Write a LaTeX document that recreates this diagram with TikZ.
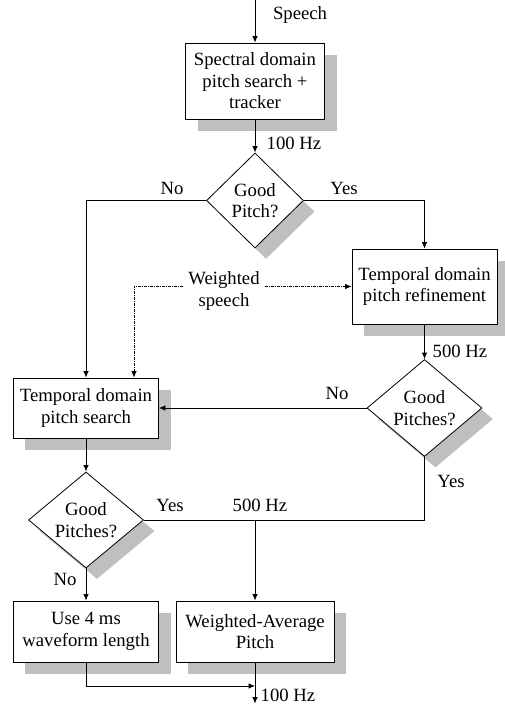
\documentclass[tikz,border=0pt]{standalone}
\usepackage{fontspec}
\setmainfont{Liberation Serif}
\usetikzlibrary{shapes.geometric,arrows.meta,shadows}
\begin{document}
\begin{tikzpicture}[x=1bp,y=-1bp,
  every node/.style={font=\fontsize{18.7bp}{21.5bp}\selectfont},
  shad/.style={drop shadow={shadow xshift=#1,shadow yshift=-#1,fill=black!25,opacity=1,shadow scale=1}},
  box/.style={draw,fill=white,line width=0.8bp,inner sep=0pt,align=center,shad=12bp},
  dia/.style={draw,fill=white,line width=0.8bp,inner sep=0pt,align=center,shape=diamond,shad=11bp},
  lbl/.style={inner sep=0pt},
  con/.style={line width=0.8bp},
  arr/.style={con,-{Latex[length=6.5bp,width=5.5bp]}},
  dd/.style={dash pattern=on 3bp off 1bp on 1bp off 1bp}
]
\useasboundingbox (0,0) rectangle (505,704);

% boxes and decisions
\node[box,minimum width=139bp,minimum height=76bp] (b1) at (255,81) {Spectral domain\\pitch search +\\tracker};
\node[dia,minimum width=97bp,minimum height=95bp,aspect=1.02] (d1) at (255,200.5) {Good\\Pitch?};
\node[box,minimum width=145bp,minimum height=75bp] (b2) at (424.5,286.5) {Temporal domain\\pitch refinement};
\node[dia,minimum width=115bp,minimum height=97bp,aspect=1.19] (d2) at (424.5,408) {Good\\Pitches?};
\node[box,minimum width=145bp,minimum height=60bp] (b3) at (86,408) {Temporal domain\\pitch search};
\node[dia,minimum width=115bp,minimum height=96bp,aspect=1.19] (d3) at (86,520) {Good\\Pitches?};
\node[box,minimum width=145bp,minimum height=61bp] (b4) at (86,631.5) {Use 4 ms\\waveform length};
\node[box,minimum width=158bp,minimum height=61bp] (b5) at (255,631.5) {Weighted-Average\\Pitch};
\node[inner sep=5bp,align=center] (ws) at (224,291) {Weighted\\speech};

% labels
\node[lbl] (lspeech) at (300,15) {Speech};
\node[lbl] (l100a) at (294,143) {100 Hz};
\node[lbl] (lno1) at (172,188) {No};
\node[lbl] (lyes1) at (344,188) {Yes};
\node[lbl] (l500a) at (460,351) {500 Hz};
\node[lbl] (lno2) at (337,393) {No};
\node[lbl] (lyes2) at (451,481) {Yes};
\node[lbl] (lyes3) at (170,505) {Yes};
\node[lbl] (l500b) at (260,505) {500 Hz};
\node[lbl] (lno3) at (65,579) {No};
\node[lbl] (l100b) at (288,695) {100 Hz};

% helper coordinates
\coordinate (sin) at (255,0);
\coordinate (b3in) at ([xshift=48bp]b3.north);
\coordinate (j1) at (b5.north |- d3.east);
\coordinate (j2) at (255,686);
\coordinate (out) at (255,703.5);

% connectors
\draw[arr] (sin) -- (b1.north);
\draw[arr] (b1.south) -- (d1.north);
\draw[arr] (d1.west) -| (b3.north);
\draw[arr] (d1.east) -| (b2.north);
\draw[arr,dd] (ws.east |- b2.west) -- (b2.west);
\draw[arr,dd] (ws.west |- b2.west) -| (b3in);
\draw[arr] (b2.south) -- (d2.north);
\draw[arr] (d2.west) -- (b3.east);
\draw[arr] (b3.south) -- (d3.north);
\draw[con] (d2.south) |- (d3.east);
\draw[arr] (j1) -- (b5.north);
\draw[arr] (d3.south) -- (b4.north);
\draw[arr] (b4.south) |- (j2);
\draw[arr] (b5.south) -- (out);
\end{tikzpicture}
\end{document}
